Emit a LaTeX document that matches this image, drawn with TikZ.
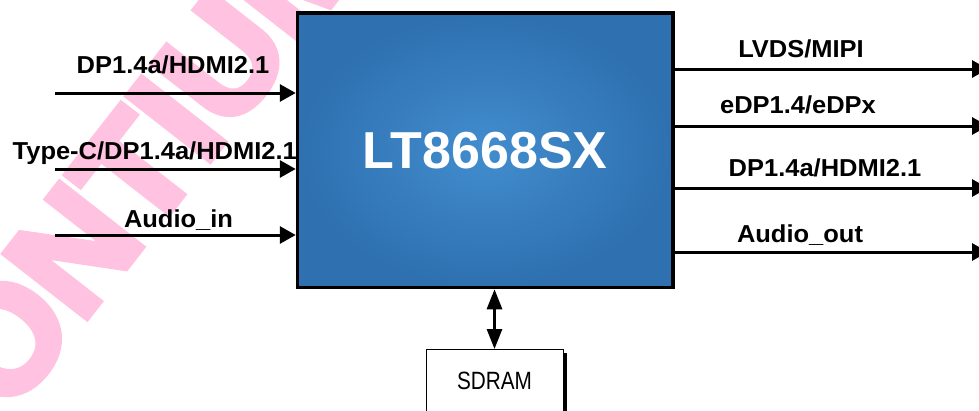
\documentclass[tikz,border=0pt]{standalone}
\usepackage{fontspec}
\setmainfont{Liberation Sans}
\newfontfamily\memfont[FakeStretch=0.83]{Liberation Sans}
\newfontfamily\lblfont[FakeStretch=1.04]{Liberation Sans}
\newfontfamily\markfont[FakeBold=5]{Liberation Sans}
\usepackage{tikz}
\usetikzlibrary{shapes,arrows,arrows.meta,positioning,fit,calc,shadows}
\definecolor{chipblue}{RGB}{46,112,176}
\definecolor{chiplight}{RGB}{66,141,206}
\definecolor{markpink}{RGB}{255,194,224}

\begin{document}
\begin{tikzpicture}[x=1pt, y=-1pt,
        chip/.style={rectangle, draw=black, line width=3.5pt,
                     inner color=chiplight, outer color=chipblue,
                     minimum width=375.5pt, minimum height=274.5pt,
                     text=white, font=\fontsize{52}{52}\selectfont\bfseries},
        sig/.style={line width=3pt, -{Triangle[length=16pt,width=17pt]}},
        bus/.style={line width=3pt,
                    {Triangle[length=20pt,width=15pt]}-{Triangle[length=20pt,width=15pt]}},
        lbl/.style={font=\lblfont\fontsize{24.5}{24.5}\selectfont\bfseries,
                    inner sep=0pt, anchor=base},
        mem/.style={rectangle, draw=black, line width=1pt, fill=white,
                    minimum width=137pt, minimum height=62pt,
                    font=\memfont\fontsize{25}{25}\selectfont,
                    drop shadow={shadow xshift=3.5pt, shadow yshift=-3pt,
                                 fill=black, opacity=1}},
        wmark/.style={rotate=52, text=markpink,
                      font=\markfont\fontsize{150}{150}\selectfont\bfseries}]
    \clip (0,0) rectangle (979,410);

    % watermark behind everything
    \node[wmark] (mark) at (122,188) {LONTIUM};

    \node[chip] (chip) at (485.25,150.25) {LT8668SX};

    % inputs
    \coordinate (in1) at (55,93);
    \coordinate (in2) at (55,169);
    \coordinate (in3) at (55,235);
    \draw[sig] (in1) -- (in1 -| chip.west);
    \draw[sig] (in2) -- (in2 -| chip.west);
    \draw[sig] (in3) -- (in3 -| chip.west);
    \node[lbl] (inlbl1) at (173,73) {DP1.4a/HDMI2.1};
    \node[lbl, anchor=base east] (inlbl2) at (297,159) {Type-C/DP1.4a/HDMI2.1};
    \node[lbl] (inlbl3) at (178.5,227) {Audio\_in};

    % outputs
    \coordinate (out1) at (988,69);
    \coordinate (out2) at (988,126);
    \coordinate (out3) at (988,188);
    \coordinate (out4) at (988,252);
    \draw[sig] (chip.east |- out1) -- (out1);
    \draw[sig] (chip.east |- out2) -- (out2);
    \draw[sig] (chip.east |- out3) -- (out3);
    \draw[sig] (chip.east |- out4) -- (out4);
    \node[lbl] (outlbl1) at (801,57) {LVDS/MIPI};
    \node[lbl] (outlbl2) at (798,113) {eDP1.4/eDPx};
    \node[lbl] (outlbl3) at (825,176) {DP1.4a/HDMI2.1};
    \node[lbl] (outlbl4) at (800,242) {Audio\_out};

    % memory
    \node[mem, anchor=north] (sdram) at (494.5,349) {SDRAM};
    \draw[bus] (sdram.north) -- (sdram.north |- chip.south);
\end{tikzpicture}
\end{document}
